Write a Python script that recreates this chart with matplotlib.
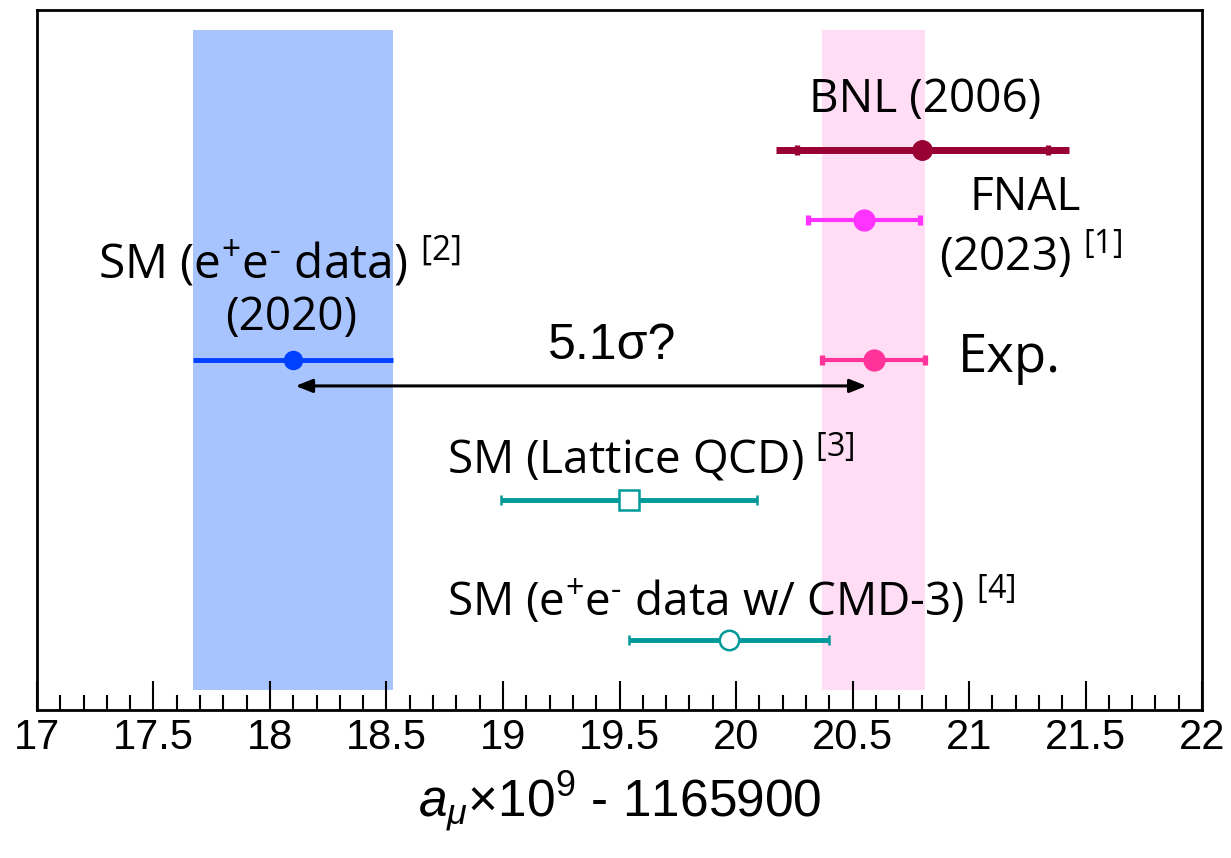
import matplotlib
matplotlib.use("Agg")
import matplotlib.pyplot as plt
from matplotlib.ticker import MultipleLocator

# values are a_mu x 1e9 - 1165900
names = ["BNL", "FNAL", "Exp", "SM2020", "Lattice", "CMD3"]
values = [20.80, 20.55, 20.59, 18.10, 19.54, 19.97]
errors = [0.63, 0.24, 0.22, 0.43, 0.55, 0.43]
rows = [8, 7, 5, 5, 3, 1]
bnl_stat = 0.54
colors = ["#990033", "#ff33ff", "#ff3399", "#0040ff", "#009999", "#009999"]

axfont = "Liberation Sans"
labfont = "Open Sans"

plt.rcParams["mathtext.fontset"] = "custom"
plt.rcParams["mathtext.rm"] = labfont
plt.rcParams["mathtext.it"] = "Liberation Sans:italic"
plt.rcParams["mathtext.sf"] = "Liberation Sans"

fig = plt.figure(figsize=(12.31, 8.58), dpi=100)
ax = fig.add_axes([0.030, 0.1725, 0.9465, 0.8158])

# bands: SM (2020) and experimental average
ax.axvspan(values[3] - errors[3], values[3] + errors[3], ymin=0.0286, ymax=0.971,
           color="#a8c4ff", lw=0, zorder=0)
ax.axvspan(values[2] - errors[2], values[2] + errors[2], ymin=0.0286, ymax=0.971,
           color="#ffddf4", lw=0, zorder=0)

# BNL: total error + stat marks
ax.errorbar(values[0], rows[0], xerr=errors[0], fmt="o", color=colors[0], ms=14,
            elinewidth=5, capsize=0, zorder=3)
ax.errorbar(values[0], rows[0], xerr=bnl_stat, fmt="none", ecolor=colors[0],
            elinewidth=0, capsize=3.8, capthick=3.8, zorder=3)

# FNAL and Exp
for i in [1, 2]:
    ax.errorbar(values[i], rows[i], xerr=errors[i], fmt="o", color=colors[i], ms=15,
                elinewidth=3, capsize=3.3, capthick=3.8, zorder=3)

# SM 2020
ax.errorbar(values[3], rows[3], xerr=errors[3], fmt="o", color=colors[3], ms=13,
            elinewidth=3.5, capsize=0, zorder=3)

# Lattice and CMD-3 (open markers)
ax.errorbar(values[4], rows[4], xerr=errors[4], fmt="s", color=colors[4], ms=14,
            mfc="white", mew=1.8, elinewidth=3.5, capsize=3.3, capthick=4.2, zorder=3)
ax.errorbar(values[5], rows[5], xerr=errors[5], fmt="o", color=colors[5], ms=14,
            mfc="white", mew=1.8, elinewidth=3.5, capsize=3.3, capthick=4.2, zorder=3)

# tension arrow
ax.annotate("", xy=(20.56, 4.63), xytext=(18.11, 4.63),
            arrowprops=dict(arrowstyle="<|-|>,head_length=1.0,head_width=0.4",
                            color="black", lw=2.2, shrinkA=0, shrinkB=0), zorder=4)
ax.text(19.47, 5.2, "5.1σ?", fontsize=36, family=axfont, ha="center", va="center")

# labels
kw = dict(family=labfont, fontsize=33, color="black")
ax.text(20.81, 8.71, "BNL (2006)", ha="center", va="center", **kw)
ax.text(21.24, 7.31, "FNAL", ha="center", va="center", **kw)
ax.text(20.87, 6.49, "(2023) $^{[1]}$", ha="left", va="center", **kw)
ax.text(20.95, 5.02, "Exp.", ha="left", va="center", family=labfont, fontsize=38)
ax.text(17.26, 6.40, "SM (e$^{+}$e$^{‐}$ data) $^{[2]}$", ha="left", va="center",
        family=labfont, fontsize=34.5)
ax.text(18.09, 5.60, "(2020)", ha="center", va="center", **kw)
ax.text(18.76, 3.60, "SM (Lattice QCD) $^{[3]}$", ha="left", va="center", **kw)
ax.text(18.76, 1.57, "SM (e$^{+}$e$^{‐}$ data w/ CMD-3) $^{[4]}$", ha="left", va="center", **kw)

ax.set_xlim(17, 22)
ax.set_ylim(0, 10)
ax.yaxis.set_visible(False)
ax.xaxis.set_minor_locator(MultipleLocator(0.1))
ax.set_xticks([17, 17.5, 18, 18.5, 19, 19.5, 20, 20.5, 21, 21.5, 22])
ax.set_xticklabels(["17", "17.5", "18", "18.5", "19", "19.5", "20", "20.5", "21", "21.5", "22"],
                   family=axfont, fontsize=30)
ax.tick_params(axis="x", which="major", direction="in", length=21, width=1.5, pad=6)
ax.tick_params(axis="x", which="minor", direction="in", length=11, width=1.5)
for s in ax.spines.values():
    s.set_linewidth(2)

ax.set_xlabel(r"$a_{\mu}$×10$^{\mathsf{9}}$ - 1165900", family=axfont,
              fontsize=37, labelpad=8)

fig.savefig("out.png", dpi=100)
